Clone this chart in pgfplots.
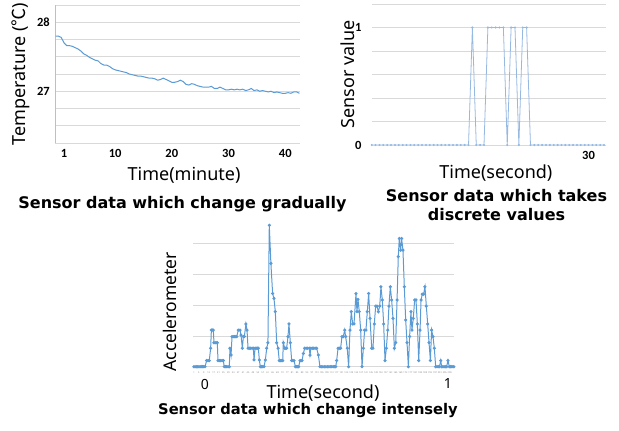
\documentclass[border=0pt]{standalone}
\usepackage{fontspec}
\usepackage{pgfplots}
\pgfplotsset{compat=1.18}
\setmainfont{Noto Sans}
\newfontfamily\cjk{Noto Sans CJK JP}
\newfontfamily\titlefont{DejaVu Sans}
\newfontfamily\tickfont{Carlito}

\definecolor{xlblue}{RGB}{91,155,213}
\definecolor{lightblue}{RGB}{150,185,225}
\definecolor{gridgray}{RGB}{217,217,217}
\definecolor{axisgray}{RGB}{191,191,191}

\pgfplotsset{
  panel/.style={
    scale only axis,
    anchor=south west,
    axis line style={draw=none},
    major tick length=0pt,
    ymajorgrids,
    major grid style={gridgray, line width=0.8pt},
    /pgf/number format/assume math mode=true,
    tick label style={font=\tickfont\bfseries\fontsize{12.5}{12.5}\selectfont, inner sep=0pt},
    xticklabel style={yshift=-6pt},
    yticklabel style={xshift=-5pt},
    label style={font=\fontsize{18}{20}\selectfont, anchor=center},
  },
}
\tikzset{ptitle/.style={font=\titlefont\bfseries\fontsize{16}{19}\selectfont}}

\begin{document}
\begin{tikzpicture}
\path[use as bounding box] (0,0) rectangle (619pt,431pt);

% gradually changing temperature
\begin{axis}[panel,
  at={(55pt,288pt)}, width=245pt, height=138pt,
  xmin=-0.6, xmax=42.6, ymin=26.25, ymax=28.25,
  xtick={1,10,20,30,40}, xticklabels={1,10,20,30,40},
  ytick={26.25,26.5,26.75,27,27.25,27.5,27.75,28,28.25},
  yticklabels={{},{},{},27,{},{},{},28,{}},
  xlabel={Time(minute)}, ylabel={Temperature ({\cjk ℃})},
  xlabel style={at={(axis description cs:0.527,-0.232)}},
  ylabel style={at={(axis description cs:-0.14,0.5)}},
]
\draw[axisgray, line width=0.8pt] (rel axis cs:0,0) -- (rel axis cs:0,1);
\addplot[xlblue, line width=1pt] coordinates {
(-0.5,27.80) (0,27.80) (0.5,27.78) (1,27.70) (1.5,27.66) (2,27.66) (2.5,27.65)
(3,27.63) (3.5,27.61) (4,27.58) (4.5,27.54) (5,27.52) (5.5,27.49) (6,27.47)
(6.5,27.45) (7,27.44) (7.5,27.40) (8,27.38) (8.5,27.38) (9,27.36) (9.5,27.33)
(10,27.31) (10.5,27.30) (11,27.29) (11.5,27.28) (12,27.27) (12.5,27.25) (13,27.24)
(13.5,27.23) (14,27.22) (14.5,27.22) (15,27.21) (15.5,27.20) (16,27.19) (16.5,27.19)
(17,27.18) (17.5,27.16) (18,27.17) (18.5,27.19) (19,27.17) (19.5,27.15) (20,27.13)
(20.5,27.13) (21,27.14) (21.5,27.16) (22,27.14) (22.5,27.10) (23,27.09) (23.5,27.11)
(24,27.10) (24.5,27.08) (25,27.07) (25.5,27.06) (26,27.06) (26.5,27.06) (27,27.07)
(27.5,27.04) (28,27.04) (28.5,27.06) (29,27.04) (29.5,27.02) (30,27.02) (30.5,27.03)
(31,27.02) (31.5,27.03) (32,27.02) (32.5,27.03) (33,27.01) (33.5,27.02) (34,27.04)
(34.5,27.01) (35,27.02) (35.5,27.00) (36,27.01) (36.5,27.00) (37,26.99) (37.5,27.00)
(38,26.98) (38.5,26.99) (39,26.98) (39.5,26.97) (40,26.97) (40.5,26.98) (41,26.97)
(41.5,26.99) (42,26.99) (42.5,26.97)
};
\end{axis}

% discrete sensor values
\begin{axis}[panel,
  at={(371.7pt,286pt)}, width=234.3pt, height=141pt,
  xmin=0, xmax=60.5, ymin=0, ymax=1.2,
  xtick={56}, xticklabels={30},
  ytick={0,0.2,0.4,0.6,0.8,1,1.2},
  yticklabels={0,{},{},{},{},1,{}},
  yticklabel style={xshift=-5pt},
  xlabel={Time(second)}, ylabel={Sensor value},
  xlabel style={at={(axis description cs:0.53,-0.199)}},
  ylabel style={at={(axis description cs:-0.101,0.5)}},
]
\addplot[lightblue, line width=0.8pt, mark=*, mark size=0.6pt] coordinates {
(0,0) (1,0) (2,0) (3,0) (4,0) (5,0) (6,0) (7,0) (8,0) (9,0) (10,0)
(11,0) (12,0) (13,0) (14,0) (15,0) (16,0) (17,0) (18,0) (19,0) (20,0)
(21,0) (22,0) (23,0) (24,0) (25,0) (26,1) (27,0) (28,0) (29,0) (30,1)
(31,1) (32,1) (33,1) (34,1) (35,0) (36,1) (37,1) (38,0) (39,1) (40,1)
(41,0) (42,0) (43,0) (44,0) (45,0) (46,0) (47,0) (48,0) (49,0) (50,0)
(51,0) (52,0) (53,0) (54,0) (55,0) (56,0) (57,0) (58,0) (59,0) (60,0)
};
\end{axis}

% intensely changing accelerometer
\begin{axis}[panel,
  at={(193.3pt,64.3pt)}, width=260.7pt, height=144.5pt,
  xmin=0.5, xmax=212.5, ymin=0, ymax=4.7,
  xtick={1,5,...,209},
  xticklabel style={font=\fontsize{2.3}{3}\selectfont, text=gray, yshift=1pt},
  extra x ticks={10,207.6}, extra x tick labels={0,1},
  extra x tick style={xticklabel style={font=\fontsize{14}{14}\selectfont, text=black, yshift=-7pt}},
  ytick={0,1,2,3,4}, yticklabels={},
  xlabel={Time(second)}, ylabel={Accelerometer},
  xlabel style={at={(axis description cs:0.4975,-0.182)}},
  ylabel style={at={(axis description cs:-0.0894,0.38)}, font=\fontsize{17.5}{20}\selectfont},
]
\addplot[xlblue, line width=1pt, mark=*, mark size=1.05pt] coordinates {
(1,0) (2,0) (3,0) (4,0) (5,0) (6,0) (7,0) (8,0) (9,0) (10,0)
(11.4,0.2) (12.5,0.2) (13.5,0.2) (14.6,0.6) (15.2,1.19) (16,1.19) (16.8,1.19)
(17.3,0.78) (18.2,0.78) (19.1,0.78) (20,0.78) (20.6,0.2) (21.7,0.2) (22.8,0.2)
(23.9,0.2) (24.9,0.2) (25.7,0) (26.7,0) (27.7,0) (28.8,0) (29.8,0) (30.3,0.6)
(31.2,0.38) (32,0.98) (33,0.98) (34,0.98) (35,0.98) (35.8,0.98) (37.1,1.19)
(38.5,1.19) (39.3,1.03) (40.4,0.6) (41.2,0.98) (42,0.98) (43.3,1.39) (44.2,1.19)
(45,0.6) (46.1,0.6) (47.2,0.6) (48.3,0.6) (49.3,0.6) (49.9,0.22) (50.7,0.6)
(51.6,0.6) (52.5,0.6) (53.4,0.6) (54.2,0.22) (55,0) (56,0) (57,0) (58,0)
(59.1,0.22) (60.2,0.6) (61.2,0.78) (62.3,4.6) (63.6,3.36) (65,2.38) (66.1,2.22)
(67.2,1.79) (68.3,0.78) (69.4,0.6) (70.4,0.2) (71.4,0.2) (72.3,0.2) (73.2,0.2)
(73.7,0.78) (74.8,0.6) (75.6,0.6) (76.4,0.6) (77.5,0.98) (78.3,1.39) (79.4,0.78)
(80.5,0.2) (81.5,0.2) (82.4,0.2) (83.5,0) (84.4,0) (85.3,0) (86.2,0) (87.3,0.2)
(88.1,0.2) (88.9,0.2) (90,0.43) (91.1,0.6) (92.3,0.6) (93.5,0.6) (94.8,0.6)
(95.4,0.38) (96.2,0.6) (97.3,0.6) (98.4,0.6) (99.6,0.6) (100.8,0.6) (102.2,0.38)
(103.5,0) (104.7,0) (105.9,0) (107.1,0) (108.3,0) (109.5,0) (110.7,0) (111.9,0)
(113.1,0) (114.3,0) (115.3,0) (116.3,0) (117.1,0.2) (118.2,0.6) (119.2,0.6)
(120.3,0.6) (121.4,0.98) (122.5,0.98) (123.6,1.19) (124.4,0.98) (125.7,0.6)
(126.8,0) (127.9,1.19) (129,1.79) (130.1,1.39) (131.2,1.39) (132.8,2.38)
(133.6,1.79) (134.4,2.19) (135.5,1.79) (136.6,1.19) (137.7,0) (138.8,0.6)
(139.8,1.19) (140.9,1.19) (142,1.79) (143.1,2.38) (144.2,1.57) (145.6,0.6)
(146.6,0.6) (147.7,1.39) (148.8,1.97) (149.9,1.97) (151,1.79) (152.1,1.97)
(153.1,2.6) (154.2,2.17) (155.3,1.39) (156.4,0.2) (157.5,0.6) (158.6,1.19)
(159.6,1.97) (160.7,2.6) (161.8,2.17) (162.9,1.57) (164,0.6) (165.1,0.78)
(166.2,2.17) (167.2,3.58) (168,4.17) (169.1,3.79) (169.9,4.17) (171,3.79)
(172.1,2.6) (173.2,1.52) (174.3,0.78) (175.4,0) (176.4,0.98) (177.5,1.79)
(178.3,1.19) (179.4,1.57) (180.5,2.17) (181.6,2.17) (182.7,1.39) (183.8,0.2)
(184.9,1.19) (185.7,2.17) (186.7,2.36) (187.8,2.36) (188.9,2.6) (190,1.97)
(191.1,1.39) (192.2,0.78) (193.3,0.2) (194.3,1.19) (195.4,0.98) (196.5,0.6)
(197.6,0) (198.7,0) (199.7,0) (200.7,0) (201.7,0.2) (202.5,0) (203.5,0)
(204.5,0) (205.5,0) (206.5,0) (207.6,0.2) (208.7,0) (209.7,0) (210.7,0)
(211.7,0) (212.4,0)
};
\end{axis}

\node[ptitle] at (182.5pt,227pt) {Sensor data which change gradually};
\node[ptitle] at (496.5pt,235pt) {Sensor data which takes};
\node[ptitle] at (496.5pt,216pt) {discrete values};
\node[ptitle, font=\titlefont\bfseries\fontsize{14.7}{17}\selectfont] at (308pt,20pt) {Sensor data which change intensely};
\end{tikzpicture}
\end{document}
